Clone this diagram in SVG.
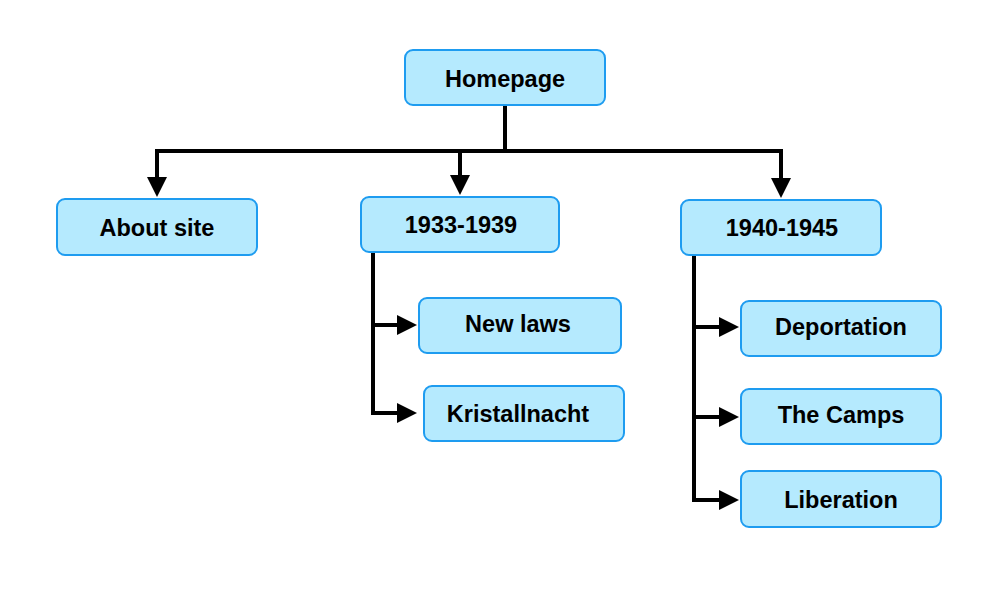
<svg xmlns="http://www.w3.org/2000/svg" width="987" height="602" viewBox="0 0 987 602">
<style>
.box{fill:#b5eafe;stroke:#1e9cf0;stroke-width:2}
.lbl{font-family:"Liberation Sans",Arial,sans-serif;font-weight:bold;font-size:23.5px;fill:#000;text-anchor:middle}
.conn{fill:none;stroke:#000;stroke-width:4;stroke-linejoin:miter}
</style>
<defs>
<marker id="ah" viewBox="0 0 20 20" refX="16" refY="10" markerWidth="20" markerHeight="20" markerUnits="userSpaceOnUse" orient="auto">
<path d="M0,0 L20,10 L0,20 Z" fill="#000"/>
</marker>
</defs>
<rect width="987" height="602" fill="#fff"/>
<g id="connectors">
<path class="conn" d="M505,106 V151"/>
<path class="conn" d="M505,151 H157 V193" marker-end="url(#ah)"/>
<path class="conn" d="M505,151 H781 V194" marker-end="url(#ah)"/>
<path class="conn" d="M460,151 V191" marker-end="url(#ah)"/>
<path class="conn" d="M373,252 V413 H413" marker-end="url(#ah)"/>
<path class="conn" d="M373,325 H413" marker-end="url(#ah)"/>
<path class="conn" d="M694,255 V500 H735" marker-end="url(#ah)"/>
<path class="conn" d="M694,327 H735" marker-end="url(#ah)"/>
<path class="conn" d="M694,417 H735" marker-end="url(#ah)"/>
</g>
<g id="homepage"><rect class="box" x="405" y="50" width="200" height="55" rx="8"/><text class="lbl" x="505" y="87">Homepage</text></g>
<g id="about"><rect class="box" x="57" y="199" width="200" height="56" rx="8"/><text class="lbl" x="157" y="236">About site</text></g>
<g id="y1933"><rect class="box" x="361" y="197" width="198" height="55" rx="8"/><text class="lbl" x="461" y="233">1933-1939</text></g>
<g id="y1940"><rect class="box" x="681" y="200" width="200" height="55" rx="8"/><text class="lbl" x="782" y="236">1940-1945</text></g>
<g id="newlaws"><rect class="box" x="419" y="298" width="202" height="55" rx="8"/><text class="lbl" x="518" y="332">New laws</text></g>
<g id="kristallnacht"><rect class="box" x="424" y="386" width="200" height="55" rx="8"/><text class="lbl" x="518" y="422">Kristallnacht</text></g>
<g id="deportation"><rect class="box" x="741" y="301" width="200" height="55" rx="8"/><text class="lbl" x="841" y="335">Deportation</text></g>
<g id="camps"><rect class="box" x="741" y="389" width="200" height="55" rx="8"/><text class="lbl" x="841" y="423">The Camps</text></g>
<g id="liberation"><rect class="box" x="741" y="471" width="200" height="56" rx="8"/><text class="lbl" x="841" y="508">Liberation</text></g>
</svg>
